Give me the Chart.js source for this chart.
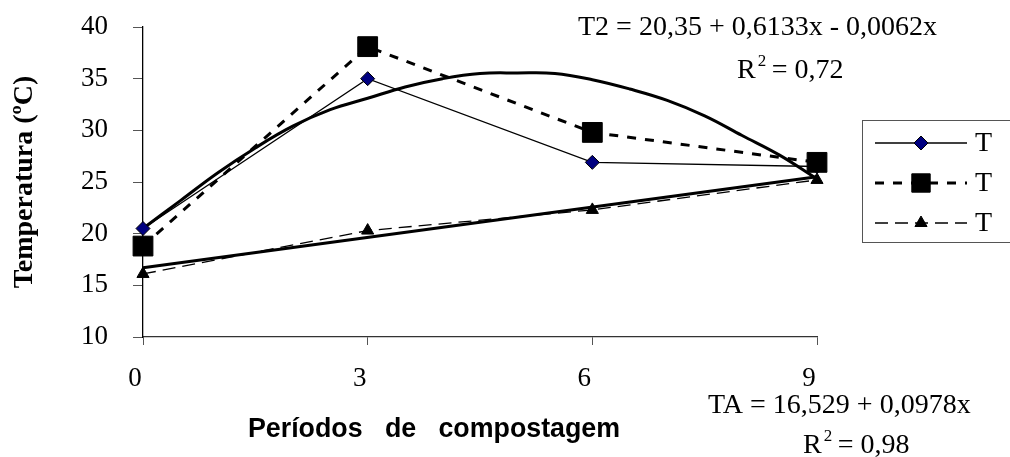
<!DOCTYPE html>
<html>
<head>
<meta charset="utf-8">
<script src="https://cdn.jsdelivr.net/npm/chart.js@4/dist/chart.umd.min.js"></script>
<style>
  html, body { margin: 0; padding: 0; background: #fff; }
  #wrap { width: 1010px; height: 457px; }
</style>
</head>
<body>
<div id="wrap"><canvas id="myChart" width="1010" height="457"></canvas></div>
<script>
// data
const periods = [0, 3, 6, 9];
const seriesT1 = [20.5, 35.0, 26.9, 26.5];
const seriesT2 = [18.8, 38.1, 29.8, 26.9];
const seriesTA = [16.1, 20.3, 22.3, 25.2];

// trend lines
const trendT2x = [0, 0.5, 1, 1.5, 2, 2.5, 3, 3.5, 4, 4.5, 5, 5.5, 6, 6.5, 7, 7.5, 8, 8.5, 9];
const trendT2y = [20.5, 23.2, 25.9, 28.3, 30.4, 32.0, 33.1, 34.2, 35.0, 35.5, 35.55, 35.5, 34.9, 34.0, 32.9, 31.4, 29.5, 27.6, 25.3];
const trendTAx = [0, 9];
const trendTAy = [16.7, 25.5];

const legendLabels = ['T', 'T', 'T'];
const yTicks = [10, 15, 20, 25, 30, 35, 40];

const serif = "'Liberation Serif', 'Times New Roman', serif";
const sans = "'Liberation Sans', Arial, sans-serif";

const toXY = (xs, ys) => xs.map((x, i) => ({ x: x, y: ys[i] }));

const mainSets = [
  {
    label: legendLabels[0],
    data: toXY(periods, seriesT1),
    order: 2,
    borderColor: '#000',
    borderWidth: 1.3,
    pointStyle: 'rectRot',
    pointRadius: 7,
    pointBackgroundColor: '#000080',
    pointBorderColor: '#000',
    pointBorderWidth: 1,
    clip: false,
  },
  {
    label: legendLabels[1],
    data: toXY(periods, seriesT2),
    order: 1,
    borderColor: '#000',
    borderWidth: 3,
    borderDash: [9, 9],
    pointStyle: 'rect',
    pointRadius: 14,
    pointBackgroundColor: '#000',
    pointBorderColor: '#000',
    pointBorderWidth: 1,
    clip: false,
  },
  {
    label: legendLabels[2],
    data: toXY(periods, seriesTA),
    order: 2,
    borderColor: '#000',
    borderWidth: 1.3,
    borderDash: [13, 7],
    pointStyle: 'triangle',
    pointRadius: 7,
    pointBackgroundColor: '#000',
    pointBorderColor: '#000',
    pointBorderWidth: 1,
    clip: false,
  },
];

// legend and equation texts
const notesPlugin = {
  id: 'notes',
  afterDraw(chart) {
    const ctx = chart.ctx;
    ctx.save();
    ctx.fillStyle = '#000';
    ctx.textBaseline = 'alphabetic';
    ctx.textAlign = 'left';

    ctx.font = '28px ' + serif;
    ctx.fillText('T2 = 20,35 + 0,6133x - 0,0062x', 578, 35, 359);
    drawR2(ctx, 737, 78, '0,72');
    ctx.font = '28px ' + serif;
    ctx.fillText('TA = 16,529 + 0,0978x', 708, 413, 264);
    drawR2(ctx, 803, 453, '0,98');

    // x axis title
    ctx.font = 'bold 27px ' + sans;
    ctx.fillText('Períodos   de   compostagem', 248, 437, 372);

    // legend
    const lx = 862, ly = 120, lh = 122;
    ctx.strokeStyle = '#555';
    ctx.lineWidth = 1;
    ctx.strokeRect(lx + 0.5, ly + 0.5, 1010 - lx + 5, lh);
    const rows = [143, 183, 223];
    mainSets.forEach((ds, i) => {
      const y = rows[i];
      ctx.save();
      ctx.strokeStyle = ds.borderColor;
      ctx.lineWidth = ds.borderWidth;
      ctx.setLineDash(ds.borderDash || []);
      ctx.beginPath();
      ctx.moveTo(875, y);
      ctx.lineTo(967, y);
      ctx.stroke();
      ctx.setLineDash([]);
      ctx.fillStyle = ds.pointBackgroundColor;
      ctx.strokeStyle = ds.pointBorderColor;
      ctx.lineWidth = ds.pointBorderWidth;
      const r = ds.pointStyle === 'rect' ? 13 : 7;
      Chart.helpers.drawPoint(ctx, { pointStyle: ds.pointStyle, radius: r, rotation: 0, borderWidth: 1 }, 921, y);
      ctx.restore();
      ctx.fillStyle = '#000';
      ctx.font = '28px ' + serif;
      ctx.textBaseline = 'middle';
      ctx.fillText(ds.label, 975, y + 1);
      ctx.textBaseline = 'alphabetic';
    });
    ctx.restore();
  }
};

function drawR2(ctx, x, y, val) {
  ctx.font = '28px ' + serif;
  ctx.fillText('R', x, y);
  const w = ctx.measureText('R').width;
  ctx.font = '17px ' + serif;
  ctx.fillText('2', x + w + 2, y - 12);
  ctx.font = '28px ' + serif;
  ctx.fillText('= ' + val, x + w + 16, y);
}

const ctx = document.getElementById('myChart').getContext('2d');
new Chart(ctx, {
  type: 'line',
  data: {
    datasets: [
      ...mainSets,
      {
        label: 'trend T2',
        data: toXY(trendT2x, trendT2y),
        order: 3,
        borderColor: '#000',
        borderWidth: 3,
        pointRadius: 0,
        tension: 0.4,
        clip: false,
      },
      {
        label: 'trend TA',
        data: toXY(trendTAx, trendTAy),
        order: 3,
        borderColor: '#000',
        borderWidth: 3,
        pointRadius: 0,
        clip: false,
      },
    ],
  },
  options: {
    responsive: false,
    animation: false,
    events: [],
    layout: { padding: { top: 27, right: 193, left: 0, bottom: 0 } },
    plugins: { legend: { display: false }, tooltip: { enabled: false } },
    scales: {
      x: {
        type: 'linear',
        min: 0,
        max: 9,
        afterFit: (s) => {
          s.height = 120;
          s.paddingLeft = 0; s.paddingRight = 0; s.paddingTop = 0; s.paddingBottom = 0;
        },
        afterBuildTicks: (s) => { s.ticks = periods.map((v) => ({ value: v })); },
        grid: { drawOnChartArea: false, drawTicks: true, tickLength: 8, color: '#555' },
        border: { color: '#333', width: 1.3 },
        ticks: { color: '#000', font: { family: serif, size: 27 }, padding: 18, labelOffset: -8 },
      },
      y: {
        min: 10,
        max: 40,
        afterFit: (s) => {
          s.width = 143;
          s.paddingLeft = 0; s.paddingRight = 0; s.paddingTop = 0; s.paddingBottom = 0;
        },
        afterBuildTicks: (s) => { s.ticks = yTicks.map((v) => ({ value: v })); },
        grid: { drawOnChartArea: false, drawTicks: true, tickLength: 10, color: '#555' },
        border: { color: '#000', width: 1.3 },
        ticks: { color: '#000', font: { family: serif, size: 27 }, padding: 25 },
        title: {
          display: true,
          text: 'Temperatura (ºC)',
          color: '#000',
          font: { family: serif, size: 28, weight: 'bold' },
          padding: { top: 8, bottom: 0 },
        },
      },
    },
  },
  plugins: [notesPlugin],
});
</script>
</body>
</html>
